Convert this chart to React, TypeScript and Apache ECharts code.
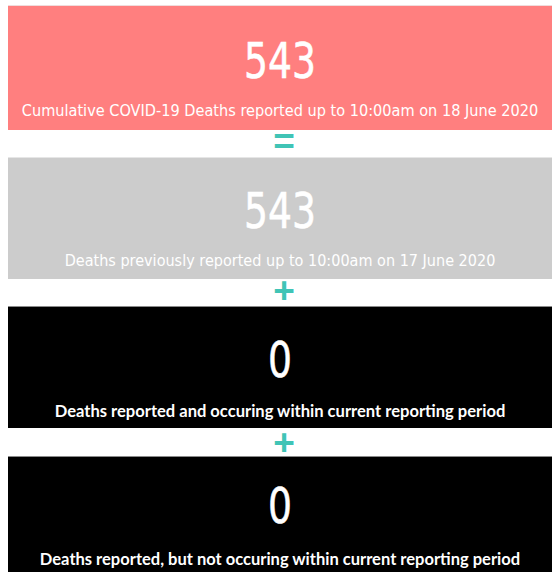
import React, { useEffect, useRef } from "react";
import * as echarts from "echarts";

const values = [543, 543, 0, 0];
const labels = [
  "Cumulative COVID-19 Deaths reported up to 10:00am on 18 June 2020",
  "Deaths previously reported up to 10:00am on 17 June 2020",
  "Deaths reported and occuring within current reporting period",
  "Deaths reported, but not occuring within current reporting period",
];
const operators = ["=", "+", "+"];

function measure(text: string, font: string): number {
  const c = document.createElement("canvas").getContext("2d");
  if (!c) return 0;
  c.font = font;
  return c.measureText(text).width;
}

export default function App() {
  const ref = useRef<HTMLDivElement>(null);
  useEffect(() => {
    if (!ref.current) return;
    const chart = echarts.init(ref.current, null, { renderer: "svg" });
    const panelTops = [5, 157, 306, 456];
    const panelBottoms = [130, 279, 428, 580];
    const fills = ["#FF7F7F", "#CCCCCC", "#000000", "#000000"];
    const topLines = ["#f0dcdc", "#e6e6e6", "#8a8a8a", "#8a8a8a"];
    const numY = [60, 210, 359, 505];
    const subY = [111, 261, 411, 559];
    const opY = [141, 290, 442];
    const subTargetW = [517, 431, 451, 481];
    const dinFont = "'DejaVu Sans', sans-serif";
    const uiFont = "Lato, 'Open Sans', sans-serif";
    const subFontStr = [
      `normal 16.5px ${dinFont}`,
      `normal 16.5px ${dinFont}`,
      `bold 16.5px ${uiFont}`,
      `bold 16.5px ${uiFont}`,
    ];
    const numFontStr = `normal 50px ${dinFont}`;
    const digitW = 24;
    const cx = 280;
    const elements: any[] = [];
    values.forEach((v, i) => {
      elements.push({
        type: "rect",
        shape: { x: 8, y: panelTops[i], width: 544, height: panelBottoms[i] - panelTops[i] },
        style: { fill: fills[i] },
      });
      elements.push({
        type: "rect",
        shape: { x: 8, y: panelTops[i], width: 544, height: 1 },
        style: { fill: topLines[i] },
      });
      const numText = String(v);
      const nw = measure(numText, numFontStr);
      const numScale = nw > 0 ? (digitW * numText.length) / nw : 1;
      elements.push({
        type: "text",
        x: cx,
        y: numY[i],
        scaleX: numScale,
        style: {
          text: numText,
          fill: "#ffffff",
          font: numFontStr,
          textAlign: "center",
          textVerticalAlign: "middle",
          stroke: "#ffffff",
          lineWidth: 0.6,
        },
      });
      const sw = measure(labels[i], subFontStr[i]);
      const subScale = sw > 0 ? subTargetW[i] / sw : 1;
      elements.push({
        type: "text",
        x: cx,
        y: subY[i],
        scaleX: subScale,
        style: {
          text: labels[i],
          fill: "#ffffff",
          font: subFontStr[i],
          textAlign: "center",
          textVerticalAlign: "middle",
        },
      });
    });
    operators.forEach((op, i) => {
      elements.push({
        type: "text",
        x: 284,
        y: opY[i],
        style: {
          text: op,
          fill: "#40C4B6",
          font: `bold 37px 'Liberation Sans', sans-serif`,
          textAlign: "center",
          textVerticalAlign: "middle",
        },
      });
    });
    chart.setOption({
      animation: false,
      backgroundColor: "#ffffff",
      graphic: { elements },
    });
    return () => chart.dispose();
  }, []);
  return (
    <div
      ref={ref}
      style={{ position: "fixed", left: 0, top: 0, width: 552, height: 572 }}
    />
  );
}
